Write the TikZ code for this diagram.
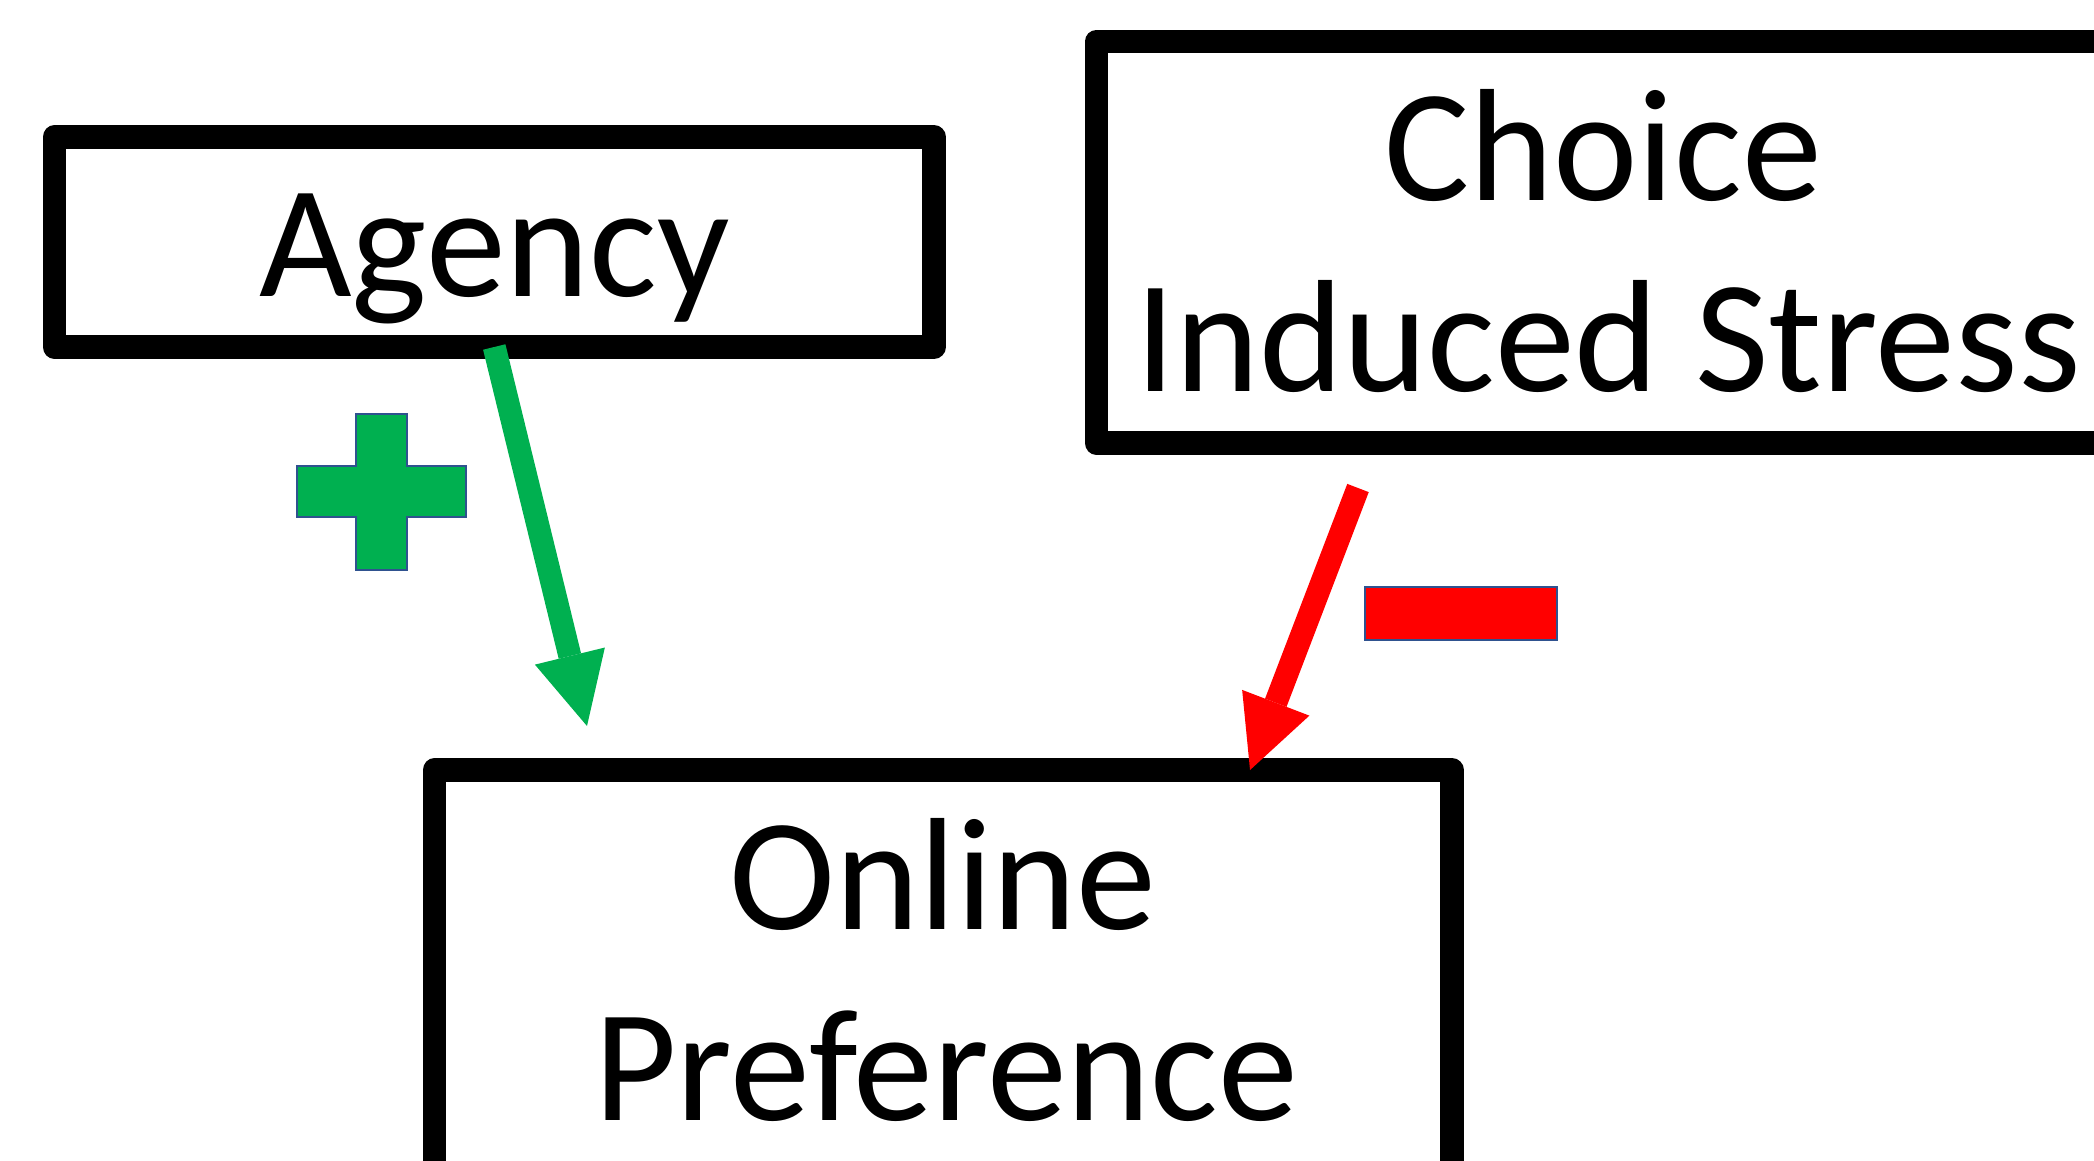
\documentclass[tikz,border=0pt]{standalone}
\usepackage{fontspec}
\setmainfont{Carlito}
\usetikzlibrary{arrows.meta,calc}
\definecolor{pgreen}{HTML}{00B050}
\definecolor{pred}{HTML}{FF0000}
\definecolor{signedge}{HTML}{2F528F}
\begin{document}
\begin{tikzpicture}[x=0.5pt,y=-0.5pt,
  box/.style={draw=black,line width=11.75pt,line join=round,rectangle,inner sep=0pt,outer sep=0pt},
  lbl/.style={font=\fontsize{80pt}{96pt}\selectfont,inner sep=0pt,anchor=base},
  conn/.style={line width=11.5pt,-{Triangle[length=36pt,width=36pt,line width=0pt]}},
  sign/.style={draw=signedge,line width=0.75pt}]
\useasboundingbox (0,0) rectangle (2094,1161);
\clip (0,0) rectangle (2094,1161);
\fill[white] (0,0) rectangle (2094,1161);
% boxes
\node[box,minimum width=439.75pt,minimum height=105pt] (agency) at (494.25,242) {};
\node[box,minimum width=508.5pt,minimum height=200.75pt] (choice) at (1605,242.25) {};
\node[box,minimum width=508.75pt,minimum height=215pt] (online) at (943.25,985) {};
% texts
\node[lbl] (agencyT) at (494.5,296) {Agency};
\node[lbl] (choiceT1) at (1603,200) {Choice};
\node[lbl] (choiceT2) at (1608,391) {Induced Stress};
\node[lbl] (onlineT1) at (943,929) {Online};
\node[lbl] (onlineT2) at (946,1120) {Preference};
% connectors
\coordinate (gtip) at (587,726);
\draw[conn,pgreen] (agency.south) -- (gtip);
\coordinate (rstart) at (1358,488);
\draw[conn,pred] (rstart) -- ($(online.north west)!0.8015!(online.north east)$);
% signs
\draw[sign,fill=pgreen] (356,414) -- (407,414) -- (407,466) -- (466,466) -- (466,517) -- (407,517) -- (407,570) -- (356,570) -- (356,517) -- (297,517) -- (297,466) -- (356,466) -- cycle;
\draw[sign,fill=pred] (1365,587) rectangle (1557,640);
\end{tikzpicture}
\end{document}
